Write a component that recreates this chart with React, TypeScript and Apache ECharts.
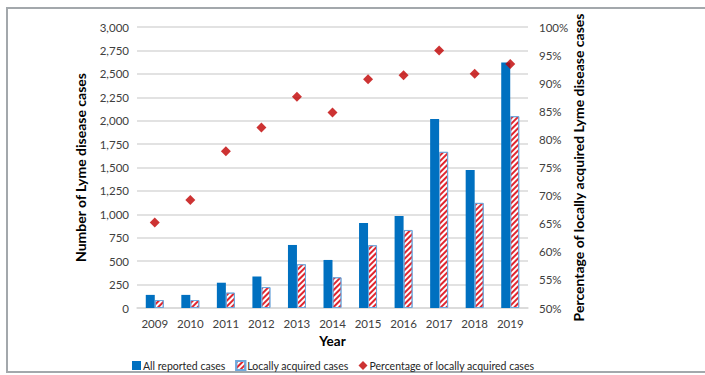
import React, { useEffect, useRef } from "react";
import * as echarts from "echarts";

const years = ["2009", "2010", "2011", "2012", "2013", "2014", "2015", "2016", "2017", "2018", "2019"];
const allReported = [140, 140, 270, 335, 673, 513, 908, 983, 2019, 1474, 2621];
const locallyAcquired = [85, 85, 164, 224, 467, 328, 670, 833, 1667, 1122, 2048];
const percentLocal = [65.2, 69.2, 77.9, 82.1, 87.6, 84.8, 90.7, 91.4, 95.8, 91.7, 93.4];

const FONT = "Lato";

export default function App() {
  const ref = useRef<HTMLDivElement>(null);
  useEffect(() => {
    if (!ref.current) return;
    const chart = echarts.init(ref.current, undefined, { renderer: "svg" });
    chart.setOption({
      animation: false,
      backgroundColor: "#ffffff",
      textStyle: { fontFamily: FONT },
      graphic: [
        {
          type: "rect",
          shape: { x: 7, y: 8, width: 720, height: 364 },
          style: { fill: "none", stroke: "#a3a8ac", lineWidth: 2 },
          silent: true,
        },
      ],
      grid: { left: 137, right: 177, top: 27, bottom: 67, containLabel: false },
      legend: {
        top: 355,
        left: 127,
        itemWidth: 9,
        itemHeight: 9,
        itemGap: 10,
        textStyle: { fontSize: 10.5, color: "#262626", fontFamily: FONT, padding: [0, 0, 0, -3] },
        data: [
          { name: "All reported cases", icon: "rect" },
          { name: "Locally acquired cases", icon: "rect" },
          { name: "Percentage of locally acquired cases", icon: "diamond" },
        ],
      },
      xAxis: {
        type: "category",
        data: years,
        name: "Year",
        nameLocation: "middle",
        nameGap: 26,
        nameMoveOverlap: false,
        nameTextStyle: { fontSize: 13.5, fontWeight: "bold", color: "#000", fontFamily: FONT },
        axisLine: { show: true, lineStyle: { color: "#d9d9d9", width: 1.5 } },
        axisTick: { show: false },
        axisLabel: { fontSize: 11.5, color: "#404040", margin: 9 },
      },
      yAxis: [
        {
          type: "value",
          min: 0,
          max: 3000,
          interval: 250,
          name: "Number of Lyme disease cases",
          nameLocation: "middle",
          nameGap: 50,
          nameMoveOverlap: false,
          nameTextStyle: { fontSize: 14, fontWeight: "bold", color: "#000", fontFamily: FONT },
          axisLine: { show: false },
          axisTick: { show: false },
          axisLabel: {
            fontSize: 11.5,
            color: "#404040",
            margin: 8,
            formatter: (v: number) => v.toLocaleString("en-US"),
          },
          splitLine: { lineStyle: { color: "#d9d9d9", width: 1.5 } },
        },
        {
          type: "value",
          min: 50,
          max: 100,
          interval: 5,
          name: "Percentage of locally acquired Lyme disease cases",
          nameLocation: "middle",
          nameGap: 43,
          nameMoveOverlap: false,
          nameTextStyle: { fontSize: 14, fontWeight: "bold", color: "#000", fontFamily: FONT },
          axisLine: { show: false },
          axisTick: { show: false },
          axisLabel: { fontSize: 11.5, color: "#404040", margin: 11, formatter: "{value}%" },
          splitLine: { show: false },
        },
      ],
      series: [
        {
          name: "All reported cases",
          type: "bar",
          data: allReported,
          barWidth: 9,
          barGap: "0%",
          itemStyle: { color: "#0070c0" },
        },
        {
          name: "Locally acquired cases",
          type: "bar",
          data: locallyAcquired,
          barWidth: 9,
          barGap: "0%",
          itemStyle: {
            color: "#ffffff",
            borderColor: "#6fa8dc",
            borderWidth: 1,
            decal: {
              symbol: "rect",
              symbolSize: 1,
              color: "#e0262f",
              backgroundColor: "#ffffff",
              dashArrayX: [1, 0],
              dashArrayY: [2, 2],
              rotation: -Math.PI / 4,
            },
          },
        },
        {
          name: "Percentage of locally acquired cases",
          type: "scatter",
          yAxisIndex: 1,
          data: percentLocal,
          symbol: "diamond",
          symbolSize: 10,
          itemStyle: { color: "#c00000" },
        },
      ],
    });
    return () => chart.dispose();
  }, []);
  return (
    <div
      ref={ref}
      style={{ position: "fixed", left: 0, top: 0, width: 705, height: 375 }}
    />
  );
}
